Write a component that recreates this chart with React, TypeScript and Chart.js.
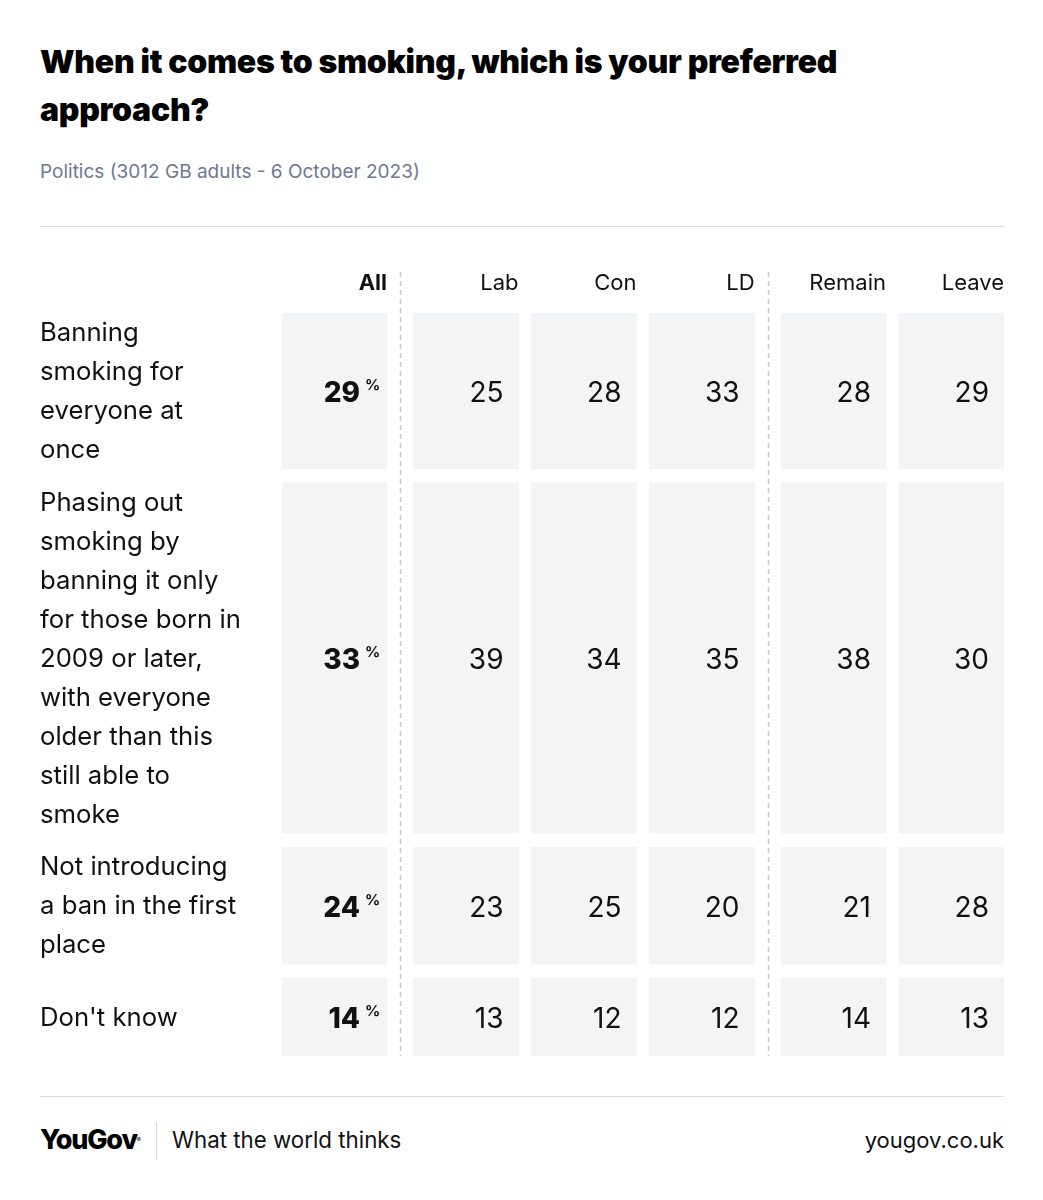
import { useEffect, useRef } from 'react';
import { Chart, registerables } from 'chart.js';

Chart.register(...registerables);

const FONT = 'Inter, "Noto Sans", "DejaVu Sans", sans-serif';

// ---- data ----
const columns = ['All', 'Lab', 'Con', 'LD', 'Remain', 'Leave'];
const dividerAfter = [0, 3];

const rowLabels: string[][] = [
  ['Banning', 'smoking for', 'everyone at', 'once'],
  [
    'Phasing out',
    'smoking by',
    'banning it only',
    'for those born in',
    '2009 or later,',
    'with everyone',
    'older than this',
    'still able to',
    'smoke',
  ],
  ['Not introducing', 'a ban in the first', 'place'],
  ["Don't know"],
];

const allValues = [29, 33, 24, 14];
const labValues = [25, 39, 23, 13];
const conValues = [28, 34, 25, 12];
const ldValues = [33, 35, 20, 12];
const remainValues = [28, 38, 21, 14];
const leaveValues = [29, 30, 28, 13];

const columnValues = [allValues, labValues, conValues, ldValues, remainValues, leaveValues];

// ---- table geometry in scale units ----
const MIN_ROW_LINES = 2;
const ROW_GAP = 0.36; // in line units
const DIVIDER_GAP = 0.114; // in column units
const CELL_WIDTH = 0.89; // in column units

const rowStart: number[] = [];
const rowEnd: number[] = [];
{
  let y = 0;
  rowLabels.forEach((lines, i) => {
    const span = Math.max(lines.length, MIN_ROW_LINES);
    rowStart.push(y);
    rowEnd.push(y + span);
    y += span + (i < rowLabels.length - 1 ? ROW_GAP : 0);
  });
}
const totalLines = rowEnd[rowEnd.length - 1];

const colPos = columns.map((_, c) => c + DIVIDER_GAP * dividerAfter.filter((d) => d < c).length);
const xMin = colPos[0] - CELL_WIDTH / 2;
const xMax = colPos[colPos.length - 1] + CELL_WIDTH / 2;

type Cell = { x: number; y: [number, number]; r: number; c: number; v: number };
const cells: Cell[] = [];
rowLabels.forEach((_, r) => {
  columns.forEach((__, c) => {
    cells.push({ x: colPos[c], y: [rowStart[r], rowEnd[r]], r, c, v: columnValues[c][r] });
  });
});

const TEXT = '#111111';

const tablePlugin = {
  id: 'tableText',
  beforeDatasetsDraw(chart: any) {
    const ctx = chart.ctx as CanvasRenderingContext2D;
    const xs = chart.scales.x;
    ctx.save();
    ctx.setLineDash([5, 4]);
    ctx.strokeStyle = '#c4c6cb';
    ctx.lineWidth = 1.5;
    dividerAfter.forEach((c) => {
      const x = Math.round(xs.getPixelForValue((colPos[c] + colPos[c + 1]) / 2)) + 0.5;
      ctx.beginPath();
      ctx.moveTo(x, chart.chartArea.top - 41);
      ctx.lineTo(x, chart.chartArea.bottom);
      ctx.stroke();
    });
    ctx.restore();
  },
  afterDatasetsDraw(chart: any) {
    const ctx = chart.ctx as CanvasRenderingContext2D;
    const xs = chart.scales.x;
    const ys = chart.scales.y;
    const pxPerLine = Math.abs(ys.getPixelForValue(1) - ys.getPixelForValue(0));
    const halfW = (xs.getPixelForValue(CELL_WIDTH) - xs.getPixelForValue(0)) / 2;
    ctx.save();
    ctx.fillStyle = TEXT;
    ctx.textBaseline = 'middle';

    // column headers
    ctx.textAlign = 'right';
    columns.forEach((name, c) => {
      ctx.font = (c === 0 ? '700 ' : '400 ') + '22px ' + FONT;
      const right = xs.getPixelForValue(colPos[c]) + halfW;
      ctx.fillText(name, right, chart.chartArea.top - 30);
    });

    // row labels
    ctx.textAlign = 'left';
    ctx.font = '400 25.7px ' + FONT;
    rowLabels.forEach((lines, r) => {
      const top = ys.getPixelForValue(rowStart[r]);
      const span = rowEnd[r] - rowStart[r];
      const offset = ((span - lines.length) / 2) * pxPerLine;
      lines.forEach((line, k) => {
        ctx.fillText(line, 40, top + offset + (k + 0.5) * pxPerLine + 1);
      });
    });

    // cell values
    const meta = chart.getDatasetMeta(0);
    meta.data.forEach((el: any, i: number) => {
      const cell = cells[i];
      const cy = (el.y + el.base) / 2 + 2.5;
      const right = el.x + halfW;
      if (cell.c === 0) {
        ctx.textAlign = 'right';
        ctx.font = '800 28px ' + FONT;
        ctx.fillText(String(cell.v), right - 27, cy);
        ctx.textAlign = 'left';
        ctx.font = '700 15px ' + FONT;
        ctx.fillText('%', right - 22, cy - 8);
      } else {
        ctx.textAlign = 'right';
        ctx.font = '400 28px ' + FONT;
        ctx.fillText(String(cell.v), right - 15, cy);
      }
    });
    ctx.restore();
  },
};

const CANVAS_TOP = 240;
const CANVAS_H = 840;

export default function App() {
  const ref = useRef<HTMLCanvasElement>(null);

  useEffect(() => {
    document.body.style.margin = '0';
    document.body.style.background = '#ffffff';
    const chart = new Chart(ref.current!, {
      type: 'bar',
      data: {
        datasets: [
          {
            data: cells as any,
            backgroundColor: '#f3f4f6',
            borderWidth: 0,
            barThickness: 105,
          },
        ],
      },
      options: {
        animation: false,
        responsive: false,
        devicePixelRatio: 1,
        parsing: { xAxisKey: 'x', yAxisKey: 'y' },
        layout: {
          padding: { left: 282, right: 39, top: 313 - CANVAS_TOP, bottom: CANVAS_TOP + CANVAS_H - 1056 },
        },
        scales: {
          x: { type: 'linear', min: xMin, max: xMax, offset: false, display: false, grid: { offset: false } },
          y: { type: 'linear', min: 0, max: totalLines, reverse: true, display: false },
        },
        plugins: { legend: { display: false }, tooltip: { enabled: false } },
      },
      plugins: [tablePlugin],
    });
    return () => chart.destroy();
  }, []);

  return (
    <div
      style={{
        position: 'relative',
        width: 1043,
        height: 1200,
        background: '#fff',
        fontFamily: FONT,
        color: TEXT,
        overflow: 'hidden',
      }}
    >
      <div
        style={{
          position: 'absolute',
          left: 40,
          top: 38,
          fontSize: 32,
          fontWeight: 900,
          lineHeight: '48px',
          letterSpacing: '-0.3px',
          color: '#000',
        }}
      >
        When it comes to smoking, which is your preferred
        <br />
        approach?
      </div>
      <div
        style={{
          position: 'absolute',
          left: 40,
          top: 160,
          fontSize: 19,
          lineHeight: '24px',
          color: '#6e7891',
        }}
      >
        Politics (3012 GB adults - 6 October 2023)
      </div>
      <div style={{ position: 'absolute', left: 40, top: 226, width: 964, height: 1, background: '#dcdde3' }} />
      <canvas
        ref={ref}
        width={1043}
        height={CANVAS_H}
        style={{ position: 'absolute', left: 0, top: CANVAS_TOP, width: 1043, height: CANVAS_H }}
      />
      <div style={{ position: 'absolute', left: 40, top: 1096, width: 964, height: 1, background: '#dcdde3' }} />
      <div
        style={{
          position: 'absolute',
          left: 40,
          top: 1124,
          fontSize: 27,
          fontWeight: 800,
          lineHeight: '32px',
          letterSpacing: '-1.2px',
          color: '#000',
        }}
      >
        YouGov<sup style={{ fontSize: 6, fontWeight: 400, verticalAlign: 'top' }}>®</sup>
      </div>
      <div style={{ position: 'absolute', left: 156, top: 1122, width: 1, height: 38, background: '#d6d7dc' }} />
      <div style={{ position: 'absolute', left: 172, top: 1126, fontSize: 22.3, lineHeight: '28px', color: TEXT }}>
        What the world thinks
      </div>
      <div
        style={{
          position: 'absolute',
          right: 39,
          top: 1126,
          fontSize: 22,
          lineHeight: '28px',
          color: TEXT,
          textAlign: 'right',
        }}
      >
        yougov.co.uk
      </div>
    </div>
  );
}
